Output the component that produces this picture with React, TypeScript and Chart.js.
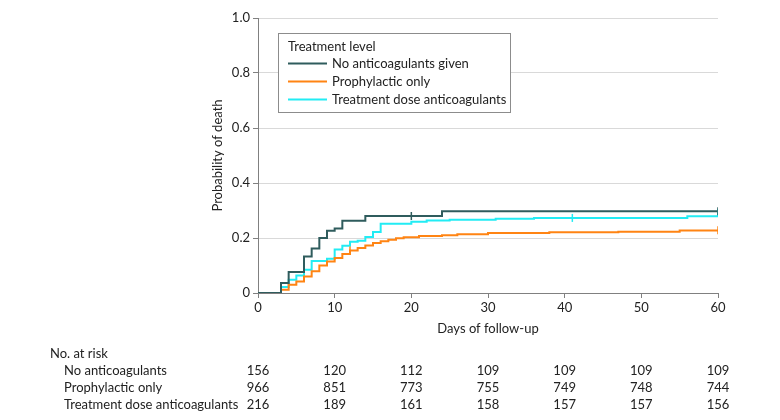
import React, { useEffect, useRef } from "react";
import { Chart, registerables } from "chart.js";

Chart.register(...registerables);

// ---- Data ----
const seriesNames = ["No anticoagulants given", "Prophylactic only", "Treatment dose anticoagulants"];
const seriesColors = ["#2F5C5D", "#FF8413", "#22ECF4"];

const noAntiDays = [0, 3, 4, 6, 7, 8, 9, 10, 11, 14, 24, 60];
const noAntiProb = [0, 0.036, 0.076, 0.133, 0.162, 0.2, 0.226, 0.235, 0.263, 0.28, 0.297, 0.297];
const noAntiCensorDays = [20, 60];
const noAntiCensorProb = [0.28, 0.297];

const prophDays = [0, 3, 4, 5, 6, 7, 8, 9, 10, 11, 12, 13, 14, 15, 16, 17, 18, 19, 21, 24, 26, 30, 38, 47, 55, 60];
const prophProb = [0, 0.012, 0.03, 0.042, 0.06, 0.079, 0.1, 0.115, 0.127, 0.142, 0.155, 0.164, 0.173, 0.182, 0.188, 0.194, 0.199, 0.203, 0.207, 0.21, 0.214, 0.218, 0.221, 0.223, 0.227, 0.228];
const prophCensorDays = [12, 60];
const prophCensorProb = [0.155, 0.228];

const treatDays = [0, 3, 4, 5, 6, 7, 9, 10, 11, 12, 13, 14, 15, 16, 20, 22, 25, 31, 36, 56, 60];
const treatProb = [0, 0.022, 0.048, 0.064, 0.085, 0.116, 0.125, 0.158, 0.172, 0.186, 0.19, 0.204, 0.222, 0.252, 0.259, 0.264, 0.266, 0.27, 0.273, 0.279, 0.292];
const treatCensorDays = [41, 60];
const treatCensorProb = [0.273, 0.292];

const riskDays = [0, 10, 20, 30, 40, 50, 60];
const riskLabels = ["No anticoagulants", "Prophylactic only", "Treatment dose anticoagulants"];
const riskNoAnti = [156, 120, 112, 109, 109, 109, 109];
const riskProph = [966, 851, 773, 755, 749, 748, 744];
const riskTreat = [216, 189, 161, 158, 157, 157, 156];

const FONT = "Lato, 'DejaVu Sans', sans-serif";
const TEXT = "#222222";

const zip = (xs: number[], ys: number[]) => xs.map((x, i) => ({ x, y: ys[i] }));

const overlayPlugin = {
  id: "overlay",
  afterDraw(chart: any) {
    const ctx = chart.ctx as CanvasRenderingContext2D;
    const xs = chart.scales.x;
    ctx.save();
    // Legend box
    const bx = 278.5, by = 33.5, bw = 232, bh = 79;
    ctx.fillStyle = "#ffffff";
    ctx.fillRect(bx, by, bw, bh);
    ctx.strokeStyle = "#8c8c8c";
    ctx.lineWidth = 1;
    ctx.strokeRect(bx, by, bw, bh);
    ctx.font = `13px ${FONT}`;
    ctx.fillStyle = TEXT;
    ctx.textAlign = "left";
    ctx.textBaseline = "middle";
    ctx.fillText("Treatment level", 288, 47);
    seriesNames.forEach((name, i) => {
      const y = 63.5 + i * 18;
      ctx.strokeStyle = seriesColors[i];
      ctx.lineWidth = 2;
      ctx.beginPath();
      ctx.moveTo(288, y);
      ctx.lineTo(327, y);
      ctx.stroke();
      ctx.fillStyle = TEXT;
      ctx.fillText(name, 332, y);
    });

    // Number at risk table
    ctx.fillStyle = TEXT;
    ctx.textAlign = "left";
    ctx.fillText("No. at risk", 50, 354);
    const rows = [riskNoAnti, riskProph, riskTreat];
    rows.forEach((row, r) => {
      const y = 371 + r * 17;
      ctx.textAlign = "left";
      ctx.fillText(riskLabels[r], 64, y);
      ctx.textAlign = "center";
      row.forEach((v, i) => {
        ctx.fillText(String(v), xs.getPixelForValue(riskDays[i]), y);
      });
    });
    ctx.restore();
  },
};

export default function App() {
  const ref = useRef<HTMLCanvasElement | null>(null);

  useEffect(() => {
    document.body.style.margin = "0";
    if (!ref.current) return;
    const lineDs = (label: string, xs: number[], ys: number[], color: string) => ({
      type: "line" as const,
      label,
      data: zip(xs, ys),
      borderColor: color,
      backgroundColor: color,
      borderWidth: 2,
      stepped: "before" as const,
      pointRadius: 0,
      fill: false,
      order: 2,
    });
    const censorDs = (xs: number[], ys: number[], color: string) => ({
      type: "scatter" as const,
      label: "censor",
      data: zip(xs, ys),
      borderColor: color,
      backgroundColor: color,
      pointStyle: "line" as const,
      rotation: 90,
      pointRadius: 4,
      borderWidth: 1.5,
      showLine: false,
      order: 1,
    });

    const chart = new Chart(ref.current, {
      type: "line",
      data: {
        datasets: [
          lineDs(seriesNames[0], noAntiDays, noAntiProb, seriesColors[0]),
          lineDs(seriesNames[1], prophDays, prophProb, seriesColors[1]),
          lineDs(seriesNames[2], treatDays, treatProb, seriesColors[2]),
          censorDs(noAntiCensorDays, noAntiCensorProb, seriesColors[0]),
          censorDs(prophCensorDays, prophCensorProb, seriesColors[1]),
          censorDs(treatCensorDays, treatCensorProb, seriesColors[2]),
        ] as any,
      },
      options: {
        responsive: false,
        animation: false,
        layout: { padding: { left: 200, right: 62, top: 18, bottom: 77 } },
        plugins: {
          legend: { display: false },
          tooltip: { enabled: false },
        },
        scales: {
          x: {
            type: "linear",
            min: 0,
            max: 60,
            afterFit: (s: any) => {
              s.height = 50;
            },
            ticks: {
              stepSize: 10,
              padding: 2,
              color: TEXT,
              font: { family: FONT, size: 13 },
            },
            grid: {
              drawOnChartArea: false,
              drawTicks: true,
              tickLength: 5,
              tickColor: "#808080",
            },
            border: { display: true, color: "#808080", width: 1 },
            title: {
              display: true,
              text: "Days of follow-up",
              color: TEXT,
              font: { family: FONT, size: 13 },
              padding: { top: 0, bottom: 6 },
            },
          },
          y: {
            type: "linear",
            min: 0,
            max: 1,
            afterFit: (s: any) => {
              s.width = 58;
            },
            ticks: {
              stepSize: 0.2,
              padding: 3,
              color: TEXT,
              font: { family: FONT, size: 13 },
              callback: (v: any) => (Number(v) === 0 ? "0" : Number(v).toFixed(1)),
            },
            grid: {
              color: "#d9d9d9",
              lineWidth: 1,
              drawTicks: true,
              tickLength: 5,
              tickColor: "#808080",
            },
            border: { display: true, color: "#808080", width: 1 },
            title: {
              display: true,
              text: "Probability of death",
              color: TEXT,
              font: { family: FONT, size: 13 },
              padding: { top: 10, bottom: 0 },
            },
          },
        },
      },
      plugins: [overlayPlugin],
    });
    return () => chart.destroy();
  }, []);

  return (
    <div style={{ width: 780, height: 420 }}>
      <canvas ref={ref} width={780} height={420} style={{ display: "block" }} />
    </div>
  );
}
